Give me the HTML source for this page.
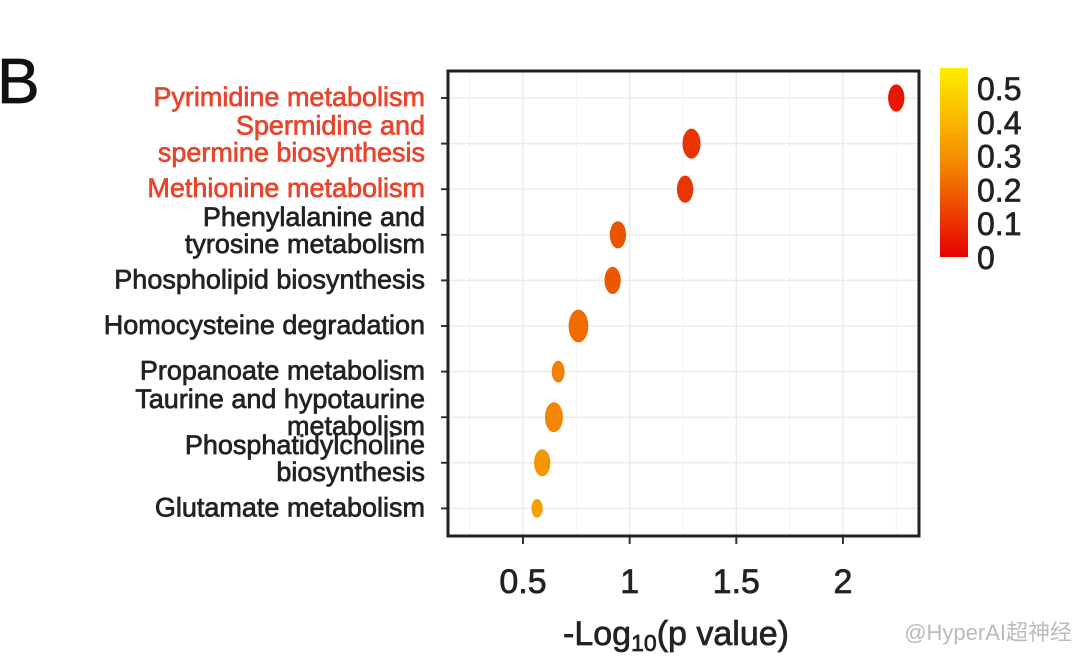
<!DOCTYPE html>
<html><head><meta charset="utf-8"><style>
body{margin:0;background:#fff;width:1080px;height:671px;overflow:hidden;font-family:"Liberation Sans","Noto Sans CJK SC",sans-serif}
svg{display:block}
text{stroke-width:0.7}
</style></head><body>
<svg id="chart" width="1080" height="671">
<defs><linearGradient id="cg" x1="0" y1="1" x2="0" y2="0"><stop offset="0" stop-color="#e60000"/><stop offset="0.5" stop-color="#f58a00"/><stop offset="1" stop-color="#ffee00"/></linearGradient></defs>
<text x="-3" y="103" font-size="64" fill="#111" stroke="#111">B</text>
<g id="grid"></g><g id="labels"></g><g id="points"></g><g id="xticks"></g>
<rect x="448" y="71" width="471" height="465" fill="none" stroke="#222" stroke-width="3"/>
<text x="676" y="645" font-size="34" text-anchor="middle" fill="#222" stroke="#222">-Log<tspan font-size="23" dy="6">10</tspan><tspan dy="-6">(p value)</tspan></text>
<rect x="940" y="68" width="28" height="189" fill="url(#cg)"/>
<g id="cticks"></g>
<text x="1072" y="640" font-size="22" text-anchor="end" fill="#bbb">@HyperAI超神经</text>
</svg>
<script>
const pathways=[["Pyrimidine metabolism"],["Spermidine and","spermine biosynthesis"],["Methionine metabolism"],["Phenylalanine and","tyrosine metabolism"],["Phospholipid biosynthesis"],["Homocysteine degradation"],["Propanoate metabolism"],["Taurine and hypotaurine","metabolism"],["Phosphatidylcholine","biosynthesis"],["Glutamate metabolism"]];
const highlighted=[true,true,true,false,false,false,false,false,false,false];
const negLogP=[2.25,1.29,1.26,0.945,0.92,0.76,0.665,0.645,0.59,0.566];
const pValues=[0.005,0.06,0.065,0.12,0.13,0.17,0.21,0.22,0.25,0.28];
const hits=[4,5,4,4,4,6,2,5,4,1];
const xTicks=[0.5,1,1.5,2];
const cTicks=[0,0.1,0.2,0.3,0.4,0.5];
const NS="http://www.w3.org/2000/svg";
const xs=v=>523+(v-0.5)*213.3;
const ys=i=>98+i*45.6;
const cy=v=>257-v*338;
function mk(t,a,p){const e=document.createElementNS(NS,t);for(const k in a)e.setAttribute(k,a[k]);p.appendChild(e);return e;}
function col(p){const t=Math.min(1,p/0.5);let r,g,b;if(t<0.5){const u=t/0.5;r=230+(245-230)*u;g=20+130*u;b=0;}else{const u=(t-0.5)/0.5;r=245+10*u;g=150+(238-150)*u;b=0;}return `rgb(${r|0},${g|0},${b|0})`;}
const G=document.getElementById('grid'),L=document.getElementById('labels'),P=document.getElementById('points'),X=document.getElementById('xticks'),C=document.getElementById('cticks');
for(let v=0.25;v<=2.5;v+=0.25){const x=xs(v);if(x<450||x>917)continue;const l=mk('line',{x1:x,x2:x,y1:72,y2:535,stroke:Number.isInteger(v*2)?'#ebebeb':'#f5f5f5','stroke-width':Number.isInteger(v*2)?1.5:1},G);}
pathways.forEach((p,i)=>{
 const y=ys(i);
 const gl=mk('line',{x1:449,x2:918,y1:y,y2:y,stroke:'#ebebeb','stroke-width':1.5},G);
 
 const tk=mk('line',{x1:441,x2:448,y1:y,y2:y,stroke:'#333','stroke-width':2},G);
 
 const c=highlighted[i]?'#e8452c':'#222';
 const t=mk('text',{x:425,'font-size':27,'text-anchor':'end',fill:c,stroke:c},L);
 
 const y0=p.length===1?y+8:y-9;
 p.forEach((s,j)=>{const ts=mk('tspan',{x:425,y:y0+j*27},t);ts.textContent=s;});
 const r=8+hits[i]*1.4;
 const e=mk('ellipse',{cx:xs(negLogP[i]),cy:y,rx:r*0.6,ry:r,fill:col(pValues[i])},P);
 
});
xTicks.forEach(v=>{const x=xs(v);
 const l=mk('line',{x1:x,x2:x,y1:537,y2:544,stroke:'#333','stroke-width':2},X);
 const t=mk('text',{x:x,y:593,'font-size':34,'text-anchor':'middle',fill:'#222',stroke:'#222'},X);t.textContent=String(v);});
cTicks.forEach(v=>{const t=mk('text',{x:977,y:cy(v)+12,'font-size':32,fill:'#222',stroke:'#222'},C);t.textContent=String(v);});
</script>
</body></html>
